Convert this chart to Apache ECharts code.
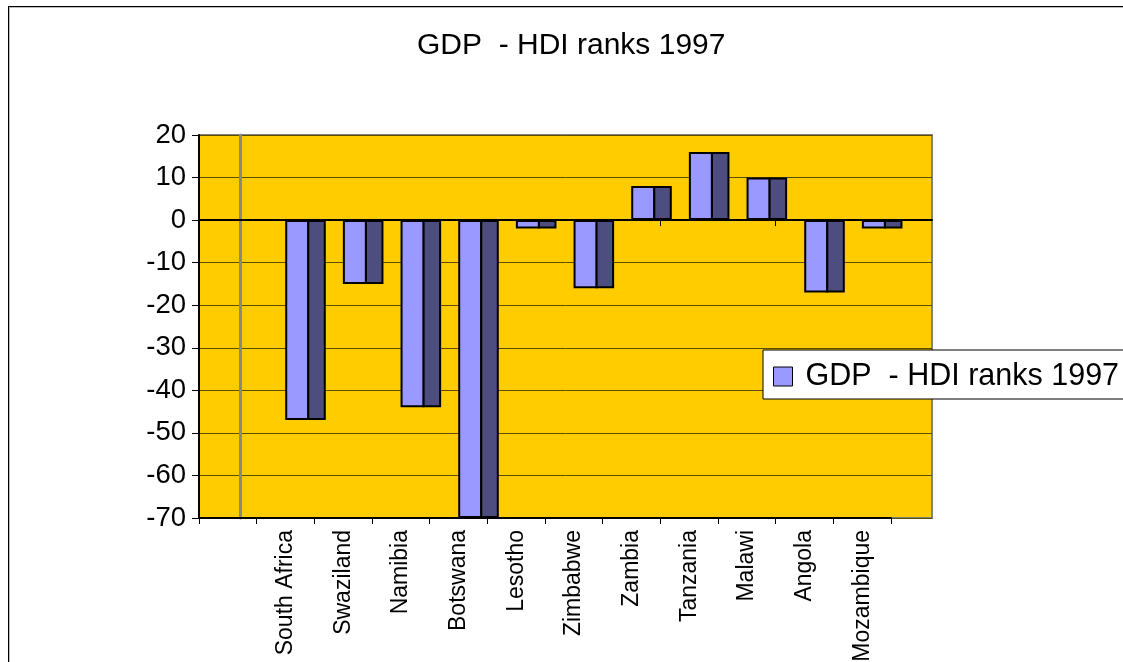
<!DOCTYPE html>
<html>
<head>
<meta charset="utf-8">
<script src="https://cdn.jsdelivr.net/npm/echarts@6/dist/echarts.min.js"></script>
<style>
  body { margin: 0; background: #fff; }
  #wrap { position: relative; width: 1123px; height: 662px; overflow: hidden; }
  #chart { position: absolute; left: 0; top: 0; width: 1123px; height: 662px; }
  #frame { position: absolute; left: 8px; top: 6px; width: 1200px; height: 700px;
           border: 1px solid #000; box-shadow: 1px 1px 0 #bbb inset; pointer-events: none; }
</style>
</head>
<body>
<div id="wrap">
  <div id="chart"></div>
  <div id="frame"></div>
</div>
<script>
// GDP minus HDI rank, 1997
var categories = ['', 'South Africa', 'Swaziland', 'Namibia', 'Botswana', 'Lesotho',
                  'Zimbabwe', 'Zambia', 'Tanzania', 'Malawi', 'Angola', 'Mozambique'];
var rankDiff = [null, -47, -15, -44, -70, -2, -16, 8, 16, 10, -17, -2];
var seriesName = 'GDP  - HDI ranks 1997';
var yMin = -70, yMax = 20, yStep = 10;

var font = 'Liberation Sans, Arial, sans-serif';
var myChart = echarts.init(document.getElementById('chart'));

var hiddenY = function (gi) {
    return { type: 'value', gridIndex: gi, min: yMin, max: yMax, interval: yStep, show: false };
};
var mkGrid = function (left, right, extra) {
    return Object.assign({ left: left, right: right, top: 135, bottom: 144,
                           containLabel: false, outerBoundsMode: 'none' }, extra || {});
};

var option = {
    animation: false,
    title: {
        text: seriesName,
        left: 412,
        top: 26,
        textStyle: { fontFamily: font, fontSize: 30, fontWeight: 'normal', color: '#000' }
    },
    legend: {
        data: [{ name: seriesName, itemStyle: { borderColor: '#000', borderWidth: 1 } }],
        left: 763,
        top: 350,
        padding: [11, 30, 7, 10],
        itemWidth: 19,
        itemHeight: 19,
        icon: 'rect',
        backgroundColor: '#fff',
        borderColor: '#000',
        borderWidth: 1,
        textStyle: { fontFamily: font, fontSize: 30.5, color: '#000', padding: [0, 0, 0, 8] }
    },
    grid: [
        // plot area / back wall
        mkGrid(199, 191, { show: true, backgroundColor: '#FFCC00',
                           borderColor: '#808080', borderWidth: 2 }),
        // category labels (front plane)
        mkGrid(199, 232),
        // bars
        mkGrid(219, 212),
        // wall edge
        mkGrid(240, 191)
    ],
    xAxis: [
        { type: 'category', gridIndex: 0, data: categories,
          axisLine: { onZero: true, lineStyle: { color: '#000', width: 2 } },
          axisTick: { show: false }, axisLabel: { show: false } },
        { type: 'category', gridIndex: 1, data: categories, position: 'bottom',
          axisLine: { onZero: false, lineStyle: { color: '#000', width: 2 } },
          axisTick: { show: true, length: 6, lineStyle: { color: '#000', width: 1 } },
          axisLabel: { rotate: 90, margin: 12, interval: 0,
                       fontFamily: font, fontSize: 23, color: '#000' } },
        { type: 'category', gridIndex: 1, data: categories, position: 'top',
          axisLine: { show: false, onZero: true },
          axisTick: { show: true, inside: true, length: 6, lineStyle: { color: '#000', width: 1 } },
          axisLabel: { show: false } },
        { type: 'category', gridIndex: 2, data: categories, show: false },
        { type: 'category', gridIndex: 3, data: categories, show: false }
    ],
    yAxis: [
        { type: 'value', gridIndex: 0, min: yMin, max: yMax, interval: yStep,
          axisLine: { show: true, lineStyle: { color: '#000', width: 2 } },
          axisTick: { show: true, length: 7, lineStyle: { color: '#000' } },
          axisLabel: { margin: 13, fontFamily: font, fontSize: 27.5, color: '#000' },
          splitLine: { show: true, lineStyle: { color: '#5e4c00', width: 1 } } },
        hiddenY(1),
        hiddenY(2),
        { type: 'value', gridIndex: 3, min: yMin, max: yMax, interval: yStep,
          axisLine: { show: true, lineStyle: { color: '#888', width: 3 } },
          axisTick: { show: false }, axisLabel: { show: false }, splitLine: { show: false } }
    ],
    series: [
        {
            name: seriesName, type: 'bar', xAxisIndex: 3, yAxisIndex: 2,
            data: rankDiff, barWidth: 24, barGap: '-8%',
            itemStyle: { color: '#9999FF', borderColor: '#000', borderWidth: 2 }
        },
        {
            name: 'side', type: 'bar', xAxisIndex: 3, yAxisIndex: 2,
            data: rankDiff, barWidth: 18.5, barGap: '-8%',
            itemStyle: { color: '#4D4D80', borderColor: '#000', borderWidth: 2 }
        }
    ]
};
myChart.setOption(option);
</script>
</body>
</html>
